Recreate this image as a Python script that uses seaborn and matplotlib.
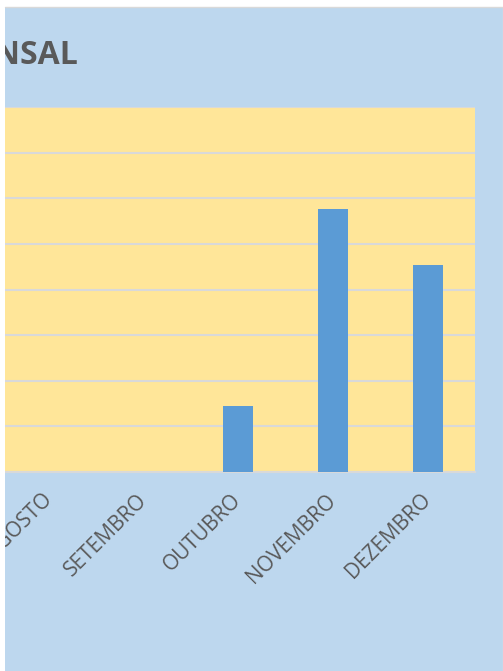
import matplotlib
matplotlib.use("Agg")
import matplotlib.pyplot as plt
import matplotlib.patches as mpatches
import seaborn as sns
import pandas as pd

# Monthly totals (grid unit = 1)
meses = ["AGOSTO", "SETEMBRO", "OUTUBRO", "NOVEMBRO", "DEZEMBRO"]
valores = [0.0, 0.0, 1.45, 5.77, 4.54]
titulo = "EVOLUÇÃO MENSAL"

BG = "#BDD7EE"
PLOT_BG = "#FFE699"
BAR = "#5B9BD5"
TXT = "#595959"
GRID = "#D9D9D9"

sns.set_theme(style="white")
plt.rcParams["font.family"] = ["Open Sans", "DejaVu Sans"]

W, H = 503, 671
fig = plt.figure(figsize=(W / 100, H / 100), dpi=100, facecolor=BG)

def fx(px):
    return px / W

def fy(py):
    return 1 - py / H

ax = fig.add_axes([fx(5), fy(472), fx(475) - fx(5), fy(107) - fy(472)])
ax.set_facecolor(PLOT_BG)

df = pd.DataFrame({"mes": meses, "valor": valores})
sns.barplot(data=df, x="mes", y="valor", color=BAR, saturation=1,
            width=0.32, ax=ax, zorder=3, linewidth=0, edgecolor="none")

ax.set_xlim(-0.465, 4.5)
ax.set_ylim(0, 8)
ax.set_yticks(range(0, 9))
ax.yaxis.grid(True, color=GRID, linewidth=1.5, zorder=1)
ax.set_axisbelow(True)
ax.tick_params(axis="y", left=False, labelleft=False)
ax.tick_params(axis="x", bottom=False, pad=12)
for lbl in ax.get_xticklabels():
    lbl.set_rotation(45)
    lbl.set_ha("right")
    lbl.set_va("center")
    lbl.set_rotation_mode("anchor")
    lbl.set_color(TXT)
    lbl.set_fontsize(15)
ax.set_xlabel("")
ax.set_ylabel("")
for side in ["left", "right", "top"]:
    ax.spines[side].set_visible(False)
ax.spines["bottom"].set_color(GRID)
ax.spines["bottom"].set_linewidth(1.5)

fig.text(fx(78), fy(64), titulo, ha="right", va="baseline",
         fontsize=23, fontweight="bold", color=TXT)

# white frame strips on the left and top edges
fig.patches.append(mpatches.Rectangle((0, 0), fx(5), 1, transform=fig.transFigure,
                                      facecolor="white", edgecolor="none", zorder=10))
fig.patches.append(mpatches.Rectangle((0, fy(7)), 1, 1 - fy(7), transform=fig.transFigure,
                                      facecolor="white", edgecolor="none", zorder=10))
fig.lines.append(plt.Line2D([fx(5), 1], [fy(6.5), fy(6.5)], transform=fig.transFigure,
                            color="#D9D9D9", linewidth=1, zorder=11))
fig.lines.append(plt.Line2D([fx(502.5), fx(502.5)], [0, fy(6.5)], transform=fig.transFigure,
                            color="#E0E0E0", linewidth=1, zorder=11))

fig.savefig("out.png", dpi=100, facecolor=BG)
